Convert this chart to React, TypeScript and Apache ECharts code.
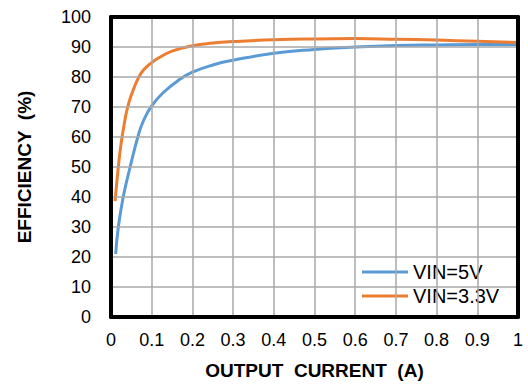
import React, { useEffect, useRef } from "react";
import * as echarts from "echarts";

const X_TICKS = [0, 0.1, 0.2, 0.3, 0.4, 0.5, 0.6, 0.7, 0.8, 0.9, 1];
const Y_TICKS = [0, 10, 20, 30, 40, 50, 60, 70, 80, 90, 100];

const SERIES_NAMES = ["VIN=5V", "VIN=3.3V"];

const vin5x = [0.0115, 0.018, 0.03, 0.047, 0.067, 0.08, 0.1, 0.13, 0.17, 0.2, 0.25, 0.3, 0.4, 0.5, 0.6, 0.7, 0.8, 0.9, 1.0];
const vin5y = [21, 30, 40, 50, 60.5, 65.5, 70.4, 75, 79.3, 81.6, 84, 85.6, 87.9, 89.2, 90, 90.5, 90.7, 90.8, 90.8];

const vin33x = [0.01, 0.018, 0.025, 0.034, 0.041, 0.05, 0.067, 0.08, 0.1, 0.12, 0.15, 0.2, 0.25, 0.3, 0.4, 0.5, 0.6, 0.7, 0.8, 0.9, 1.0];
const vin33y = [38.6, 50, 58, 65.5, 70, 74, 79.6, 82.3, 84.8, 86.6, 88.6, 90.4, 91.3, 91.8, 92.4, 92.7, 92.8, 92.6, 92.3, 91.9, 91.5];

const FONT = "'Liberation Sans', Arial, sans-serif";

export default function App() {
  const ref = useRef<HTMLDivElement>(null);
  useEffect(() => {
    if (!ref.current) return;
    const chart = echarts.init(ref.current, undefined, { renderer: "svg" });
    const pair = (xs: number[], ys: number[]) => xs.map((x, i) => [x, ys[i]]);
    const fmtX = (v: number) => {
      const t = X_TICKS.find((k) => Math.abs(k - v) < 1e-6);
      return t === undefined ? "" : String(t);
    };
    const fmtY = (v: number) => {
      const t = Y_TICKS.find((k) => Math.abs(k - v) < 1e-6);
      return t === undefined ? "" : String(t);
    };
    chart.setOption({
      animation: false,
      backgroundColor: "#fff",
      textStyle: { fontFamily: FONT },
      grid: { left: 111, right: 10, top: 17, bottom: 64, show: false },
      legend: {
        left: 355,
        top: 255,
        orient: "vertical",
        backgroundColor: "#fff",
        padding: [7, 9, 6, 7],
        itemGap: 4,
        itemWidth: 46,
        itemHeight: 3,
        icon: "rect",
        textStyle: { fontSize: 20, lineHeight: 18, color: "#000", fontFamily: FONT },
        data: SERIES_NAMES,
      },
      xAxis: [
        {
          type: "value",
          min: 0,
          max: 1,
          interval: 0.1,
          name: "OUTPUT  CURRENT  (A)",
          nameLocation: "middle",
          nameGap: 44,
          nameTextStyle: { fontSize: 19, fontWeight: "bold", color: "#000", fontFamily: FONT },
          axisLine: { show: true, onZero: false, lineStyle: { color: "#000", width: 4 } },
          axisTick: { show: false },
          axisLabel: { fontSize: 18, color: "#000", margin: 14, formatter: fmtX, fontFamily: FONT },
          splitLine: { show: true, lineStyle: { color: "#a8a8a8", width: 1.5 } },
          z: 5,
        },
        {
          type: "value",
          position: "top",
          min: 0,
          max: 1,
          interval: 0.1,
          axisLine: { show: true, onZero: false, lineStyle: { color: "#000", width: 4 } },
          axisTick: { show: false },
          axisLabel: { show: false },
          splitLine: { show: false },
          z: 5,
        },
      ],
      yAxis: [
        {
          type: "value",
          min: 0,
          max: 100,
          interval: 10,
          name: "EFFICIENCY  (%)",
          nameLocation: "middle",
          nameGap: 77,
          nameTextStyle: { fontSize: 19, fontWeight: "bold", color: "#000", fontFamily: FONT },
          axisLine: { show: true, onZero: false, lineStyle: { color: "#000", width: 4 } },
          axisTick: { show: false },
          axisLabel: { fontSize: 18, color: "#000", margin: 20, formatter: fmtY, fontFamily: FONT },
          splitLine: { show: true, lineStyle: { color: "#a8a8a8", width: 1.5 } },
          z: 5,
        },
        {
          type: "value",
          position: "right",
          min: 0,
          max: 100,
          interval: 10,
          axisLine: { show: true, onZero: false, lineStyle: { color: "#000", width: 4 } },
          axisTick: { show: false },
          axisLabel: { show: false },
          splitLine: { show: false },
          z: 5,
        },
      ],
      series: [
        {
          name: SERIES_NAMES[0],
          type: "line",
          data: pair(vin5x, vin5y),
          smooth: 0.5,
          showSymbol: false,
          symbol: "none",
          lineStyle: { color: "#5B9BD5", width: 3 },
          itemStyle: { color: "#5B9BD5" },
          z: 2,
        },
        {
          name: SERIES_NAMES[1],
          type: "line",
          data: pair(vin33x, vin33y),
          smooth: 0.5,
          showSymbol: false,
          symbol: "none",
          lineStyle: { color: "#ED7D31", width: 3 },
          itemStyle: { color: "#ED7D31" },
          z: 2,
        },
      ],
    });
    return () => chart.dispose();
  }, []);
  return <div ref={ref} style={{ width: 528, height: 385, position: "absolute", left: 0, top: 0 }} />;
}
